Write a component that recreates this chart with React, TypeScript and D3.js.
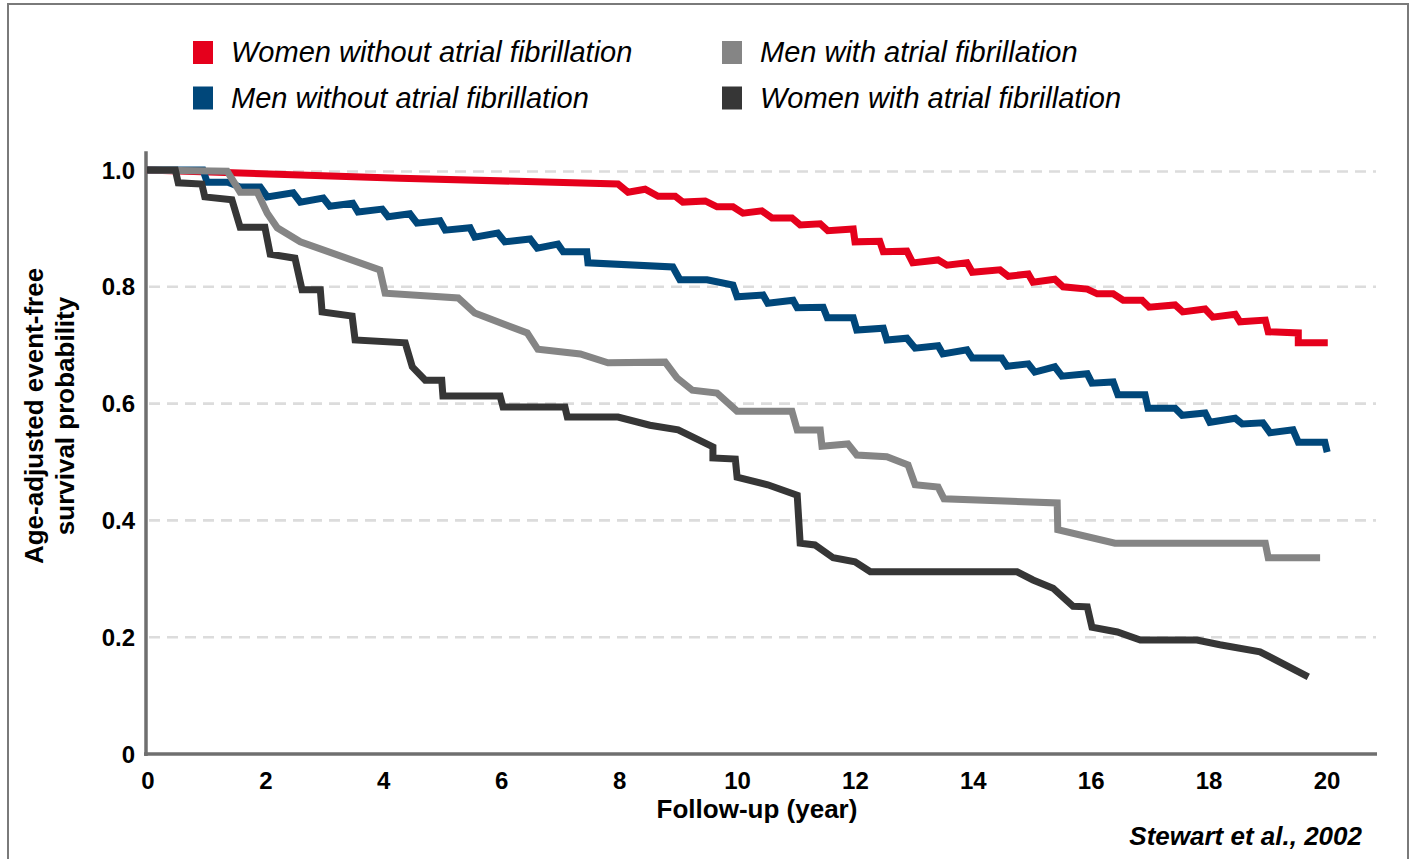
import React from 'react';
import * as d3 from 'd3';

type Pt = [number, number];

const seriesNames = [
  'Women without atrial fibrillation',
  'Men without atrial fibrillation',
  'Men with atrial fibrillation',
  'Women with atrial fibrillation',
];
const seriesColors = ['#e5001c', '#00477a', '#858585', '#363636'];

const womenNoAF: Pt[] = [
  [0, 1.0], [4.29, 0.986], [7.99, 0.976], [8.16, 0.962], [8.45, 0.967], [8.67, 0.955], [8.96, 0.955],
  [9.09, 0.945], [9.47, 0.947], [9.67, 0.937], [9.94, 0.937], [10.11, 0.926], [10.43, 0.93], [10.6, 0.918],
  [10.94, 0.918], [11.08, 0.906], [11.42, 0.908], [11.55, 0.896], [11.98, 0.899], [12.01, 0.877],
  [12.43, 0.878], [12.49, 0.86], [12.89, 0.861], [12.99, 0.841], [13.42, 0.846], [13.57, 0.837],
  [13.91, 0.841], [14.0, 0.825], [14.47, 0.829], [14.61, 0.818], [14.95, 0.822], [15.03, 0.808],
  [15.4, 0.813], [15.54, 0.8], [15.95, 0.796], [16.12, 0.788], [16.39, 0.788], [16.56, 0.777],
  [16.88, 0.777], [17.0, 0.765], [17.44, 0.769], [17.57, 0.757], [17.95, 0.762], [18.08, 0.748],
  [18.46, 0.753], [18.54, 0.74], [18.97, 0.743], [19.02, 0.723], [19.53, 0.721], [19.53, 0.704],
  [20.03, 0.704],
];

const menNoAF: Pt[] = [
  [0, 1.0], [0.95, 1.0], [1.02, 0.979], [1.37, 0.979], [1.58, 0.971], [1.92, 0.971], [2.04, 0.954],
  [2.48, 0.961], [2.6, 0.945], [2.99, 0.952], [3.1, 0.938], [3.49, 0.943], [3.58, 0.928], [3.99, 0.933],
  [4.09, 0.92], [4.46, 0.925], [4.58, 0.909], [4.97, 0.913], [5.06, 0.897], [5.48, 0.901], [5.56, 0.885],
  [5.95, 0.892], [6.07, 0.877], [6.5, 0.882], [6.62, 0.866], [6.97, 0.873], [7.06, 0.86], [7.46, 0.86],
  [7.48, 0.841], [8.92, 0.834], [9.04, 0.812], [9.5, 0.812], [9.94, 0.803], [10.01, 0.783], [10.45, 0.786],
  [10.53, 0.772], [10.96, 0.777], [11.03, 0.764], [11.47, 0.765], [11.54, 0.747], [11.98, 0.747],
  [12.04, 0.726], [12.49, 0.729], [12.55, 0.709], [12.89, 0.712], [13.03, 0.695], [13.42, 0.699],
  [13.5, 0.685], [13.91, 0.692], [14.0, 0.678], [14.5, 0.678], [14.59, 0.664], [14.95, 0.668],
  [15.06, 0.654], [15.4, 0.663], [15.52, 0.647], [15.95, 0.651], [16.03, 0.635], [16.39, 0.637],
  [16.47, 0.615], [16.93, 0.615], [16.98, 0.592], [17.44, 0.592], [17.56, 0.58], [17.95, 0.584],
  [18.03, 0.568], [18.46, 0.575], [18.58, 0.565], [18.93, 0.567], [19.05, 0.55], [19.44, 0.555],
  [19.53, 0.534], [19.98, 0.534], [20.02, 0.517],
];

const menAF: Pt[] = [
  [0, 1.0], [1.36, 0.998], [1.58, 0.962], [1.87, 0.962], [2.04, 0.926], [2.21, 0.901], [2.6, 0.877],
  [3.95, 0.829], [4.04, 0.789], [5.28, 0.781], [5.56, 0.755], [6.45, 0.721], [6.63, 0.693], [7.35, 0.685],
  [7.82, 0.67], [8.79, 0.671], [8.99, 0.644], [9.25, 0.623], [9.67, 0.618], [10.01, 0.587], [10.94, 0.587],
  [11.03, 0.555], [11.42, 0.555], [11.45, 0.527], [11.89, 0.531], [12.04, 0.512], [12.55, 0.509],
  [12.91, 0.495], [13.03, 0.461], [13.42, 0.457], [13.52, 0.437], [15.44, 0.43], [15.45, 0.384],
  [16.42, 0.361], [18.97, 0.361], [19.02, 0.336], [19.9, 0.336],
];

const womenAF: Pt[] = [
  [0, 1.0], [0.48, 1.0], [0.53, 0.978], [0.93, 0.976], [0.98, 0.954], [1.44, 0.949], [1.58, 0.902],
  [2.0, 0.902], [2.09, 0.856], [2.51, 0.849], [2.63, 0.795], [2.94, 0.795], [2.97, 0.757], [3.48, 0.75],
  [3.53, 0.709], [4.38, 0.704], [4.5, 0.663], [4.72, 0.64], [5.0, 0.64], [5.02, 0.613], [5.99, 0.613],
  [6.04, 0.594], [7.09, 0.594], [7.13, 0.577], [7.99, 0.577], [8.53, 0.563], [9.01, 0.555], [9.6, 0.526],
  [9.6, 0.507], [9.98, 0.505], [10.01, 0.474], [10.53, 0.461], [11.03, 0.443], [11.08, 0.361],
  [11.33, 0.358], [11.64, 0.336], [12.01, 0.329], [12.27, 0.312], [14.76, 0.312], [15.03, 0.298],
  [15.37, 0.284], [15.71, 0.253], [15.95, 0.252], [16.03, 0.217], [16.46, 0.209], [16.85, 0.195],
  [17.81, 0.195], [18.2, 0.187], [18.88, 0.175], [19.7, 0.132],
];

const seriesData = [womenNoAF, menNoAF, menAF, womenAF];

const xTicks = [0, 2, 4, 6, 8, 10, 12, 14, 16, 18, 20];
const yTicks = [0, 0.2, 0.4, 0.6, 0.8, 1.0];
const yTickLabels = ['0', '0.2', '0.4', '0.6', '0.8', '1.0'];
const gridValues = [0.2, 0.4, 0.6, 0.8, 1.0];

const xTitle = 'Follow-up (year)';
const yTitleLines = ['Age-adjusted event-free', 'survival probability'];
const sourceNote = 'Stewart et al., 2002';

const W = 1412;
const H = 859;
const FONT = '"Liberation Sans", Arial, Helvetica, sans-serif';

export default function App() {
  const x = d3.scaleLinear().domain([0, 20]).range([147, 1326]);
  const y = d3.scaleLinear().domain([0, 1]).range([754, 170]);
  const line = d3
    .line<Pt>()
    .x((d) => x(d[0]))
    .y((d) => y(d[1]))
    .curve(d3.curveLinear);

  const axisX0 = x(0) - 1;
  const gridEnd = 1376;

  return (
    <svg
      width={W}
      height={H}
      style={{ position: 'absolute', left: 0, top: 0, background: '#fff' }}
      fontFamily={FONT}
    >
      <rect x={0} y={0} width={W} height={H} fill="#fff" />
      <rect x={8} y={4} width={1400} height={H + 10} fill="none" stroke="#7a7a7a" strokeWidth={2} />

      {/* legend */}
      {seriesNames.map((name, i) => {
        const col = Math.floor(i / 2);
        const row = i % 2;
        const sx = col === 0 ? 193 : 722;
        const ty = row === 0 ? 62 : 107.5;
        return (
          <g key={name}>
            <rect x={sx} y={ty - 21} width={20} height={23} fill={seriesColors[i]} />
            <text x={sx + 38} y={ty} fontSize={29} fontStyle="italic" fill="#000">
              {name}
            </text>
          </g>
        );
      })}

      {/* grid */}
      {gridValues.map((v) => (
        <line
          key={v}
          x1={axisX0 + 3}
          x2={gridEnd}
          y1={y(v) + (v === 1 ? 1.5 : 0)}
          y2={y(v) + (v === 1 ? 1.5 : 0)}
          stroke="#dcdcdc"
          strokeWidth={2.6}
          strokeDasharray="11 7"
        />
      ))}

      {/* axes */}
      <line x1={axisX0} x2={axisX0} y1={y(1.032)} y2={y(0) + 2} stroke="#6f6f6f" strokeWidth={3.5} />
      <line x1={axisX0 - 2} x2={1377} y1={y(0)} y2={y(0)} stroke="#6f6f6f" strokeWidth={3.5} />

      {/* y tick labels */}
      {yTicks.map((v, i) => (
        <text
          key={v}
          x={135}
          y={y(v)}
          dy="0.36em"
          textAnchor="end"
          fontSize={24}
          fontWeight="bold"
          fill="#000"
        >
          {yTickLabels[i]}
        </text>
      ))}

      {/* x tick labels */}
      {xTicks.map((v) => (
        <text
          key={v}
          x={x(v) + 1}
          y={780}
          dy="0.36em"
          textAnchor="middle"
          fontSize={24}
          fontWeight="bold"
          fill="#000"
        >
          {v}
        </text>
      ))}

      {/* curves */}
      {seriesData.map((d, i) => (
        <path
          key={seriesNames[i]}
          d={line(d) || ''}
          fill="none"
          stroke={seriesColors[i]}
          strokeWidth={7}
          strokeLinejoin="miter"
          strokeLinecap="butt"
        />
      ))}

      {/* titles */}
      <text x={757} y={818} textAnchor="middle" fontSize={26} fontWeight="bold" fill="#000">
        {xTitle}
      </text>
      {yTitleLines.map((t, i) => (
        <text
          key={t}
          transform={`translate(${43 + i * 31}, 416) rotate(-90)`}
          textAnchor="middle"
          fontSize={26}
          fontWeight="bold"
          fill="#000"
        >
          {t}
        </text>
      ))}
      <text x={1362} y={845} textAnchor="end" fontSize={26} fontWeight="bold" fontStyle="italic" fill="#000">
        {sourceNote}
      </text>
    </svg>
  );
}
